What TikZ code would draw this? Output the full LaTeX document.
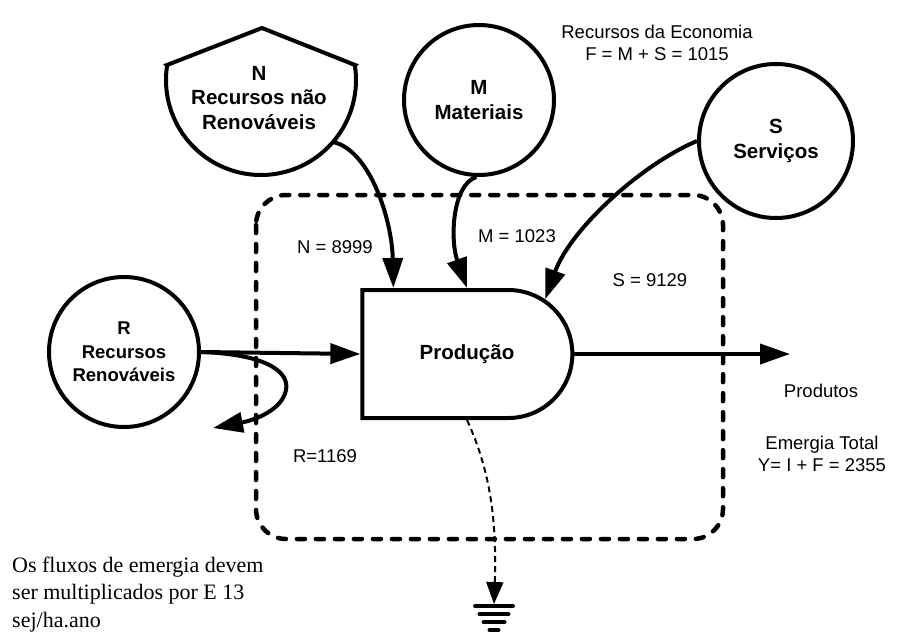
\documentclass[tikz,border=0pt]{standalone}
\usepackage{fontspec}
\setmainfont{Liberation Serif}
\setsansfont{Liberation Sans}
\usetikzlibrary{arrows.meta,shapes.misc}

\begin{document}
\begin{tikzpicture}[x=1pt, y=-1pt,
		fonte/.style={shape=circle, draw, line width=4pt, minimum size=#1, inner sep=0pt, align=center, font=\sffamily\bfseries\fontsize{20.5}{24.5}\selectfont},
		fluxo/.style={line width=4pt, -{Triangle[length=30pt, width=20pt]}},
		rotulo/.style={font=\sffamily\fontsize{18.5}{22}\selectfont, align=center},
	]
	\useasboundingbox (0, 0) rectangle (905, 638);
	\draw[line width=4.5pt, dash pattern=on 8pt off 11pt, line cap=round, rounded corners=30pt] (256, 195) rectangle (723, 539);
	\draw[line width=4pt] (167, 65) -- (262, 28) -- (355, 65) -- plot[domain=-9:189, samples=80] ({261+95*cos(\x)}, {80+95*sin(\x)}) -- cycle;
	\node[align=center, font=\sffamily\bfseries\fontsize{20.5}{24.5}\selectfont] at (259, 98) (N) {N\\Recursos não\\Renováveis};
	\node[fonte=150pt] at (479, 100) (M) {M\\Materiais};
	\node[fonte=154pt] at (776, 141) (S) {S\\Serviços};
	\node[fonte=150pt, font=\sffamily\bfseries\fontsize{18.5}{23.5}\selectfont] at (124, 352) (R) {R\\Recursos\\Renováveis};
	\node[shape=rounded rectangle, rounded rectangle west arc=none, draw, line width=4pt, minimum width=210pt, minimum height=128pt, inner sep=0pt, font=\sffamily\bfseries\fontsize{20.5}{24.5}\selectfont] at (467, 354) (P) {Produção};
	\coordinate (Nsai) at (333, 142);
	\coordinate (Rvolta) at (213, 428);
	\coordinate (saida) at (790, 354);
	\coordinate (terra) at (494, 604);
	\draw[fluxo] (Nsai) .. controls (370, 150) and (392, 220) .. ([xshift=33pt]P.north west);
	\draw[fluxo] (M.268) .. controls (452, 185) and (450, 240) .. (P.north);
	\draw[fluxo] (S.180) .. controls (640, 165) and (570, 230) .. (P.35);
	\draw[fluxo] (R.east) -- (P.west);
	\draw[fluxo] (R.east) .. controls (262, 354) and (290, 370) .. (286, 390) .. controls (282, 410) and (255, 420) .. (Rvolta);
	\draw[fluxo] (P.east) -- (saida);
	\draw[line width=2pt, dash pattern=on 6pt off 4pt, -{Triangle[length=22pt, width=17pt]}] (P.south) .. controls (490, 470) and (497, 520) .. (terra);
	\foreach \dy/\w in {2/19, 10/14.5, 18/10.5, 26/4.5}
		\draw[line width=4pt, line cap=round] ([shift={(-\w, \dy)}]terra) -- ([shift={(\w, \dy)}]terra);
	\node[rotulo] at (335, 247) (nN) {N = 8999};
	\node[rotulo] at (517, 236) (nM) {M = 1023};
	\node[rotulo] at (650, 280) (nS) {S = 9129};
	\node[rotulo] at (325, 456) (nR) {R=1169};
	\node[rotulo] at (821, 391) (prod) {Produtos};
	\node[rotulo] at (822, 454) (Y) {Emergia Total\\Y= I + F = 2355};
	\node[rotulo] at (657, 43) (F) {Recursos da Economia\\F = M + S = 1015};
	\node[anchor=base west, align=left, inner sep=0pt, font=\fontsize{22}{27.5}\selectfont] at (12, 627) (nota) {Os fluxos de emergia devem\\ser multiplicados por E 13\\sej/ha.ano};
\end{tikzpicture}
\end{document}
